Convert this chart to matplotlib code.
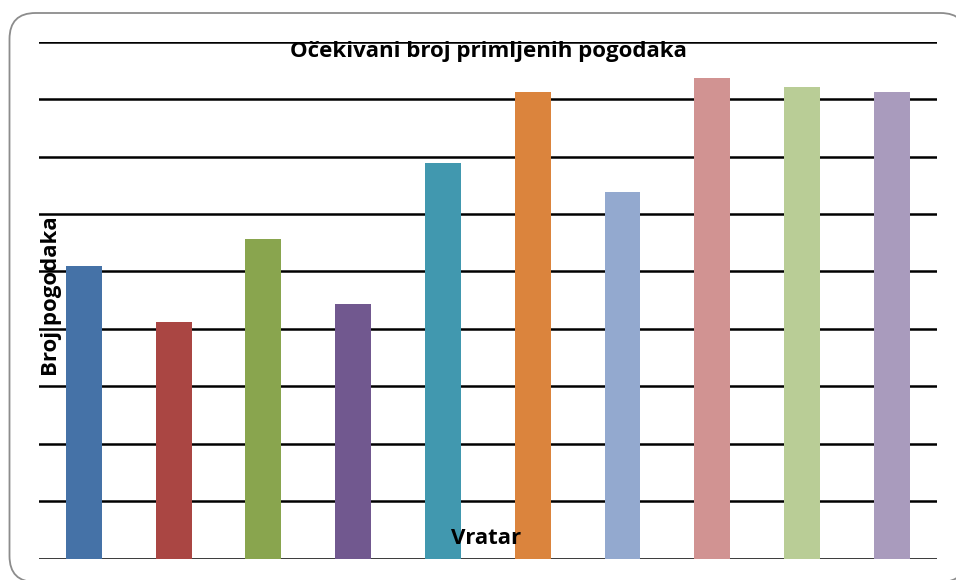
import matplotlib
matplotlib.use('Agg')
import matplotlib.pyplot as plt
from matplotlib.patches import FancyBboxPatch

# keepers (no names shown in the chart) and expected goals conceded
keepers = ['1', '2', '3', '4', '5', '6', '7', '8', '9', '10']
goals = [5.10, 4.12, 5.57, 4.43, 6.89, 8.12, 6.38, 8.37, 8.21, 8.12]
colors = ['#4572A7', '#AA4643', '#89A54E', '#71588F', '#4198AF',
          '#DB843D', '#93A9CF', '#D19392', '#B9CD96', '#A99BBD']

plt.rcParams['font.family'] = ['Open Sans', 'DejaVu Sans']

W, H = 956, 580
fig = plt.figure(figsize=(W / 100, H / 100), dpi=100)

# background axes in pixel units, just for the rounded chart border
# (filled white so agg doesn't stroke along the canvas clip edge)
bg = fig.add_axes([0, 0, 1, 1])
bg.set_xlim(0, W)
bg.set_ylim(0, H)
bg.axis('off')
bg.add_patch(FancyBboxPatch((9.5, -2), 957, 569,
                            boxstyle='round,pad=0,rounding_size=26',
                            facecolor='white', edgecolor='#8c8c8c',
                            linewidth=1.3))

ax = fig.add_axes([39 / W, (H - 558.7) / H, (936.7 - 39) / W, (558.7 - 41.7) / H])
ax.patch.set_alpha(0)
x = range(len(keepers))
ax.bar(x, goals, width=0.40, color=colors, zorder=3)
ax.set_xlim(-0.5, len(keepers) - 0.5)
ax.set_ylim(0, 9)
ax.set_yticks(range(0, 10))
ax.yaxis.grid(True, color='black', linewidth=1.8, zorder=1)
ax.set_axisbelow(True)
ax.set_xticks([])
ax.tick_params(left=False, labelleft=False)
for s in ax.spines.values():
    s.set_visible(False)

fig.text(488 / W, 1 - 51 / H, 'Očekivani broj primljenih pogodaka',
         ha='center', va='center', fontsize=16, fontweight='bold')
fig.text(52 / W, 1 - 296 / H, 'Broj pogodaka', rotation=90,
         ha='center', va='center', fontsize=16, fontweight='bold')
fig.text(486 / W, 1 - 539 / H, 'Vratar',
         ha='center', va='center', fontsize=16, fontweight='bold')

fig.savefig('out.png', dpi=100)
